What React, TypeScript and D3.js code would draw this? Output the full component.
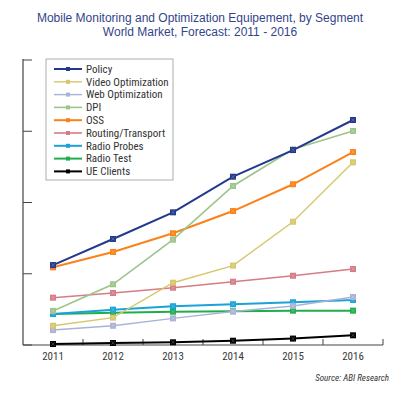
import React from "react";
import * as d3 from "d3";

const years = ["2011", "2012", "2013", "2014", "2015", "2016"];
const yTicks = [0, 500, 1000, 1500, 2000];

const seriesNames = [
  "Policy",
  "Video Optimization",
  "Web Optimization",
  "DPI",
  "OSS",
  "Routing/Transport",
  "Radio Probes",
  "Radio Test",
  "UE Clients",
];
const seriesColors = [
  "#22398c",
  "#d6c76c",
  "#a9b3d6",
  "#9cc58a",
  "#fb8219",
  "#d57c84",
  "#1aa3d8",
  "#1fae4b",
  "#000000",
];
const seriesWidths = [2, 1.4, 1.4, 1.6, 2, 1.6, 2, 2, 2];

const policy = [561, 744, 931, 1181, 1368, 1579];
const video = [135, 192, 437, 557, 865, 1282];
const web = [105, 135, 187, 235, 274, 337];
const dpi = [239, 426, 739, 1116, 1373, 1502];
const oss = [545, 653, 784, 940, 1128, 1354];
const routing = [332, 365, 402, 444, 486, 533];
const radioProbes = [218, 248, 272, 286, 300, 316];
const radioTest = [218, 227, 234, 237, 241, 241];
const ueClients = [7, 14, 19, 30, 45, 68];

const seriesValues = [policy, video, web, dpi, oss, routing, radioProbes, radioTest, ueClients];

const W = 408;
const H = 406;
const left = 23;
const right = 383;
const top = 60;
const bottom = 345;

const narrow = "'Liberation Sans Narrow', 'Roboto Condensed', 'Liberation Sans', sans-serif";

function Marker({ x, y, color, s, hatch }: { x: number; y: number; color: string; s: number; hatch: boolean }) {
  const h = s / 2;
  return (
    <g>
      <rect x={x - h} y={y - h} width={s} height={s} fill={color} />
      {hatch && (
        <path
          d={`M${x - h + 1.2},${y - h + 1.2}L${x + h - 1.2},${y + h - 1.2}M${x + h - 1.2},${y - h + 1.2}L${x - h + 1.2},${y + h - 1.2}`}
          stroke="#fff"
          strokeOpacity={0.3}
          strokeWidth={0.7}
        />
      )}
    </g>
  );
}

export default function App() {
  const x = d3.scaleBand<string>().domain(years).range([left, right]).padding(0);
  const y = d3.scaleLinear().domain([0, 2000]).range([bottom, top]);
  const cx = (yr: string) => (x(yr) as number) + x.bandwidth() / 2;
  const line = d3
    .line<number>()
    .x((_, i) => cx(years[i]))
    .y((v) => y(v));

  const order = seriesNames.map((_, i) => i).reverse();
  const legendX = 46;
  const legendY = 59;
  const rowH = 12.8;

  return (
    <svg
      width={W}
      height={H}
      style={{ position: "absolute", left: 0, top: 0, background: "#fff" }}
    >
      <rect x={0} y={0} width={W} height={H} fill="#fff" />
      <g fontFamily="'Liberation Sans', Arial, sans-serif" fontSize={12} fill="#33458a" textAnchor="middle">
        <text x={200} y={21.5}>Mobile Monitoring and Optimization Equipement, by Segment</text>
        <text x={200} y={36}>World Market, Forecast: 2011 - 2016</text>
      </g>

      {/* y axis */}
      <line x1={left} x2={left} y1={top - 1} y2={bottom} stroke="#444" strokeWidth={1.2} />
      {yTicks.map((t) => (
        <line key={t} x1={left} x2={left + 9} y1={y(t)} y2={y(t)} stroke="#444" strokeWidth={1} />
      ))}

      {/* x axis */}
      <line x1={left} x2={right} y1={bottom} y2={bottom} stroke="#444" strokeWidth={1.2} />
      {years.map((yr) => (
        <line
          key={"t" + yr}
          x1={(x(yr) as number) + x.bandwidth()}
          x2={(x(yr) as number) + x.bandwidth()}
          y1={bottom}
          y2={bottom - 6}
          stroke="#444"
          strokeWidth={1}
        />
      ))}
      {years.map((yr) => (
        <text
          key={"l" + yr}
          x={cx(yr)}
          y={bottom + 15}
          textAnchor="middle"
          fontFamily={narrow}
          fontSize={11}
          fill="#3a3a3a"
        >
          {yr}
        </text>
      ))}

      {/* legend */}
      <rect
        x={legendX}
        y={legendY}
        width={127}
        height={121}
        fill="#fff"
        stroke="#9a9a9a"
        strokeWidth={0.8}
      />
      {seriesNames.map((n, i) => {
        const ly = legendY + 10 + i * rowH;
        return (
          <g key={"lg" + n}>
            <line x1={54} x2={82} y1={ly} y2={ly} stroke={seriesColors[i]} strokeWidth={seriesWidths[i]} />
            <Marker x={68} y={ly} color={seriesColors[i]} s={4} hatch={false} />
            <text x={86} y={ly + 3.8} fontFamily={narrow} fontSize={11} fill="#333">
              {n}
            </text>
          </g>
        );
      })}

      {/* series */}
      {order.map((i) => (
        <g key={"s" + i}>
          <path
            d={line(seriesValues[i]) || ""}
            fill="none"
            stroke={seriesColors[i]}
            strokeWidth={seriesWidths[i]}
          />
          {seriesValues[i].map((v, j) => (
            <Marker key={j} x={cx(years[j])} y={y(v)} color={seriesColors[i]} s={6} hatch={true} />
          ))}
        </g>
      ))}

      <text
        x={389}
        y={380.5}
        textAnchor="end"
        fontFamily={narrow}
        fontStyle="italic"
        fontSize={9}
        fill="#333"
      >
        Source: ABI Research
      </text>
    </svg>
  );
}
